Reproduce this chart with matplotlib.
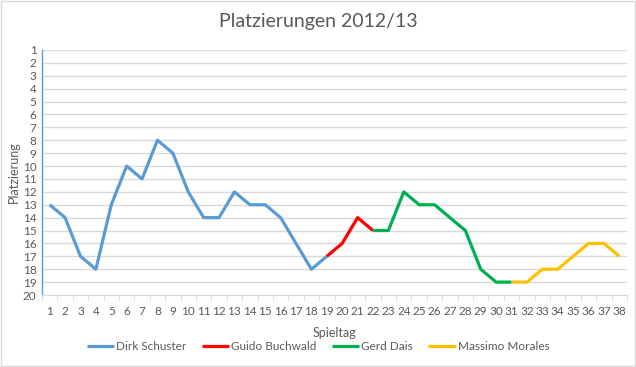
import numpy as np
import matplotlib.pyplot as plt
from matplotlib.patches import Rectangle

plt.rcParams['font.family'] = ['Lato', 'DejaVu Sans']

spieltage = list(range(1, 39))
nan = np.nan
# Platzierung je Spieltag, aufgeteilt nach Trainer
schuster = [13, 14, 17, 18, 13, 10, 11, 8, 9, 12, 14, 14, 12, 13, 13, 14, 16, 18, 17] + [nan] * 19
buchwald = [nan] * 18 + [17, 16, 14, 15] + [nan] * 16
dais = [nan] * 21 + [15, 15, 12, 13, 13, 14, 15, 18, 19, 19] + [nan] * 7
morales = [nan] * 30 + [19, 19, 18, 18, 17, 16, 16, 17]

serien = [
    ("Dirk Schuster", schuster, "#5B9BD5"),
    ("Guido Buchwald", buchwald, "#FF0000"),
    ("Gerd Dais", dais, "#00B050"),
    ("Massimo Morales", morales, "#FFC000"),
]

txt = "#595959"
grid = "#D9D9D9"

fig = plt.figure(figsize=(6.36, 3.67), dpi=100)
fig.patches.append(Rectangle((0.0015, 0.0025), 0.997, 0.995, transform=fig.transFigure,
                             fill=False, edgecolor=grid, linewidth=1))
ax = fig.add_axes([42 / 636, 1 - 295 / 367, (627 - 42) / 636, (295 - 50) / 367])

for name, werte, farbe in serien:
    ax.plot(spieltage, werte, color=farbe, linewidth=2.3, label=name, solid_capstyle='butt')

ax.set_xlim(0.5, 38.5)
ax.set_ylim(20, 1)
ax.set_yticks(range(1, 21))
ax.set_xticks(spieltage)
ax.set_xticks(np.arange(0.5, 39, 1), minor=True)
ax.tick_params(axis='x', which='major', length=0, pad=8, labelsize=8.5, labelcolor=txt)
ax.tick_params(axis='x', which='minor', length=4, color=grid, direction='out')
ax.tick_params(axis='y', length=0, pad=4, labelsize=8.5, labelcolor=txt)
for y in range(1, 20):
    ax.axhline(y, color=grid, linewidth=1, zorder=0)

for s in ['top', 'right']:
    ax.spines[s].set_visible(False)
ax.spines['bottom'].set_color(grid)
ax.spines['left'].set_color("#5B9BD5")
ax.spines['left'].set_linewidth(1)

ax.set_xlabel("Spieltag", color=txt, fontsize=9, labelpad=7)
ax.set_ylabel("Platzierung", color=txt, fontsize=9, labelpad=2)
fig.suptitle("Platzierungen 2012/13", color=txt, fontsize=14, y=0.965)

fig.legend(loc='center', bbox_to_anchor=(0.5, 1 - 347 / 367), ncol=4, frameon=False,
           fontsize=8.5, labelcolor=txt, handlelength=2.3, handletextpad=0.2, columnspacing=1.3)

fig.savefig("out.png", dpi=100)
